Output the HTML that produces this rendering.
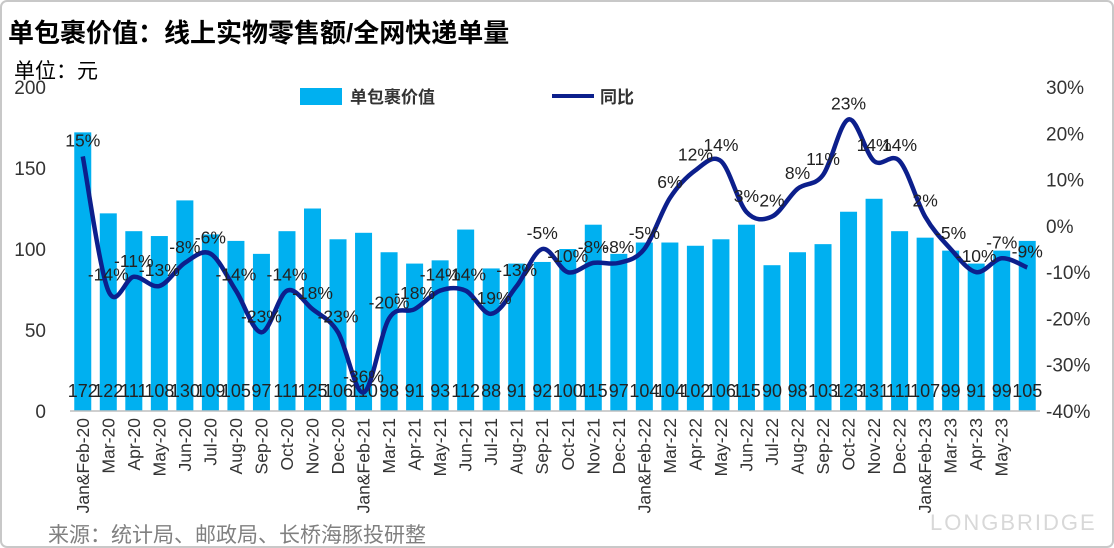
<!DOCTYPE html>
<html><head><meta charset="utf-8"><style>
body{margin:0;background:#fff;}
svg{display:block;font-family:"Liberation Sans","Noto Sans CJK SC",sans-serif;}
</style></head><body>
<svg id="c" width="1114" height="548">
<rect x="1" y="1" width="1112" height="546" rx="6" fill="#fff" stroke="#c8c8c8" stroke-width="2"/>
<text x="8" y="42" font-size="26" font-weight="bold" fill="#000">单包裹价值：线上实物零售额/全网快递单量</text>
<text x="14" y="78" font-size="21" fill="#000">单位：元</text>
<g>
<rect x="300" y="88" width="42" height="17" fill="#00b0f0"/>
<text x="350" y="103" font-size="17" font-weight="bold" fill="#333">单包裹价值</text>
<line x1="552" y1="96" x2="594" y2="96" stroke="#0c1f8c" stroke-width="4"/>
<text x="600" y="103" font-size="17" font-weight="bold" fill="#333">同比</text>
</g>
<g id="plot"></g>
<text x="48" y="542" font-size="21" fill="#808080">来源：统计局、邮政局、长桥海豚投研整</text>
<text x="930" y="530" font-size="22" fill="#d8d8d8" letter-spacing="2">LONGBRIDGE</text>
</svg>
<script>
const categories=["Jan&Feb-20","Mar-20","Apr-20","May-20","Jun-20","Jul-20","Aug-20","Sep-20","Oct-20","Nov-20","Dec-20","Jan&Feb-21","Mar-21","Apr-21","May-21","Jun-21","Jul-21","Aug-21","Sep-21","Oct-21","Nov-21","Dec-21","Jan&Feb-22","Mar-22","Apr-22","May-22","Jun-22","Jul-22","Aug-22","Sep-22","Oct-22","Nov-22","Dec-22","Jan&Feb-23","Mar-23","Apr-23","May-23",""];
const parcelValue=[172,122,111,108,130,109,105,97,111,125,106,110,98,91,93,112,88,91,92,100,115,97,104,104,102,106,115,90,98,103,123,131,111,107,99,91,99,105];
const yoy=[15,-14,-11,-13,-8,-6,-14,-23,-14,-18,-23,-36,-20,-18,-14,-14,-19,-13,-5,-10,-8,-8,-5,6,12,14,3,2,8,11,23,14,14,2,-5,-10,-7,-9];
const leftTicks=[0,50,100,150,200];
const rightTicks=[-40,-30,-20,-10,0,10,20,30];
const NS="http://www.w3.org/2000/svg";
const g=document.getElementById('plot');
const X0=70,X1=1040,Y0=411,Y1=87;
const step=(X1-X0)/categories.length;
const xc=i=>X0+step*(i+0.5);
const yL=v=>Y0-(v/200)*(Y0-Y1);
const yR=v=>Y0-((v+40)/70)*(Y0-Y1);
function mk(t,a,txt){const e=document.createElementNS(NS,t);for(const k in a)e.setAttribute(k,a[k]);if(txt!==undefined)e.textContent=txt;g.appendChild(e);return e;}
leftTicks.forEach(v=>{const e=mk('text',{x:46,y:yL(v)+7,'font-size':19,'text-anchor':'end',fill:'#333'},v);

});
rightTicks.forEach(v=>{const e=mk('text',{x:1046,y:yR(v)+7,'font-size':19,fill:'#333'},v+'%');

});
parcelValue.forEach((v,i)=>{const b=mk('rect',{x:xc(i)-8.5,y:yL(v),width:17,height:Y0-yL(v),fill:'#00b0f0'});

});
const ax=mk('line',{x1:X0,y1:Y0,x2:X1,y2:Y0,stroke:'#bfbfbf','stroke-width':1.5});


parcelValue.forEach((v,i)=>{const t=mk('text',{x:xc(i),y:397,'font-size':18,'text-anchor':'middle',fill:'#222'},v);

});
categories.forEach((c,i)=>{if(!c)return;const t=mk('text',{x:0,y:0,'font-size':17.5,'text-anchor':'end',fill:'#333',transform:`translate(${xc(i)+6},418) rotate(-90)`},c);

});
const pts=yoy.map((v,i)=>[xc(i),yR(v)]);
let d=`M${pts[0][0]},${pts[0][1]}`;
for(let i=0;i<pts.length-1;i++){const p0=pts[i-1]||pts[i],p1=pts[i],p2=pts[i+1],p3=pts[i+2]||p2;
d+=` C${p1[0]+(p2[0]-p0[0])/6},${p1[1]+(p2[1]-p0[1])/6} ${p2[0]-(p3[0]-p1[0])/6},${p2[1]-(p3[1]-p1[1])/6} ${p2[0]},${p2[1]}`;}
const ln=mk('path',{d:d,fill:'none',stroke:'#0c1f8c','stroke-width':4.5,'stroke-linejoin':'round'});


yoy.forEach((v,i)=>{const t=mk('text',{x:xc(i),y:yR(v)-10,'font-size':17.5,'text-anchor':'middle',fill:'#222'},v+'%');

});
</script>
</body></html>
